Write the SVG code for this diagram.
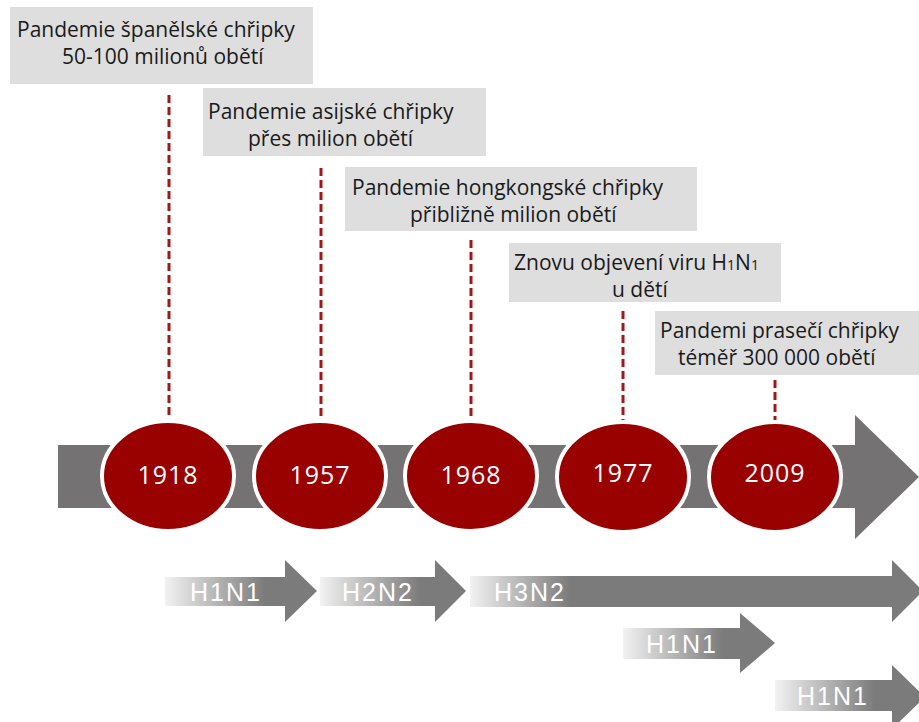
<svg xmlns="http://www.w3.org/2000/svg" width="919" height="722" viewBox="0 0 919 722">
<style>
.box{fill:#dedede}
.bt{font-family:"Open Sans","Liberation Sans",sans-serif;font-size:21px;fill:#1a1a1a}
.dash{stroke:#a01818;stroke-width:3;stroke-dasharray:8 4;fill:none}
.circ{fill:#990000;stroke:#ffffff;stroke-width:4}
.yt{font-family:"Open Sans","Liberation Sans",sans-serif;font-size:25px;fill:#ffffff;text-anchor:middle;letter-spacing:1px}
.at{font-family:"Liberation Sans",Arial,sans-serif;font-size:25px;fill:#ffffff;letter-spacing:2px}
</style>
<defs>
<linearGradient id="g1" gradientUnits="userSpaceOnUse" x1="165" y1="0" x2="265" y2="0"><stop offset="0" stop-color="#f2f2f2"/><stop offset="1" stop-color="#7b7b7b"/></linearGradient>
<linearGradient id="g2" gradientUnits="userSpaceOnUse" x1="320" y1="0" x2="420" y2="0"><stop offset="0" stop-color="#f2f2f2"/><stop offset="1" stop-color="#7b7b7b"/></linearGradient>
<linearGradient id="g3" gradientUnits="userSpaceOnUse" x1="470" y1="0" x2="570" y2="0"><stop offset="0" stop-color="#f2f2f2"/><stop offset="1" stop-color="#7b7b7b"/></linearGradient>
<linearGradient id="g4" gradientUnits="userSpaceOnUse" x1="623" y1="0" x2="723" y2="0"><stop offset="0" stop-color="#f2f2f2"/><stop offset="1" stop-color="#7b7b7b"/></linearGradient>
<linearGradient id="g5" gradientUnits="userSpaceOnUse" x1="775" y1="0" x2="875" y2="0"><stop offset="0" stop-color="#f2f2f2"/><stop offset="1" stop-color="#7b7b7b"/></linearGradient>
</defs>
<rect width="919" height="722" fill="#ffffff"/>

<g id="connectors">
<line class="dash" x1="169" y1="95" x2="169" y2="422"/>
<line class="dash" x1="321" y1="168" x2="321" y2="422"/>
<line class="dash" x1="471" y1="240" x2="471" y2="422"/>
<line class="dash" x1="623" y1="311" x2="623" y2="422"/>
<line class="dash" x1="775" y1="380" x2="775" y2="422"/>
</g>

<g id="box1">
<rect class="box" x="10" y="7" width="303" height="77"/>
<text class="bt" x="17" y="37">Pandemie španělské chřipky</text>
<text class="bt" x="62" y="64">50-100 milionů obětí</text>
</g>
<g id="box2">
<rect class="box" x="203" y="88" width="283" height="68"/>
<text class="bt" x="208" y="119">Pandemie asijské chřipky</text>
<text class="bt" x="248" y="146">přes milion obětí</text>
</g>
<g id="box3">
<rect class="box" x="345" y="167" width="352" height="64"/>
<text class="bt" x="352" y="195">Pandemie hongkongské chřipky</text>
<text class="bt" x="410" y="222">přibližně milion obětí</text>
</g>
<g id="box4">
<rect class="box" x="509" y="243" width="272" height="59"/>
<text class="bt" x="514" y="270">Znovu objevení viru H<tspan font-size="14">1</tspan>N<tspan font-size="14">1</tspan></text>
<text class="bt" x="612" y="297">u dětí</text>
</g>
<g id="box5">
<rect class="box" x="655" y="311" width="264" height="64"/>
<text class="bt" x="660" y="338">Pandemi prasečí chřipky</text>
<text class="bt" x="678" y="365">téměř 300 000 obětí</text>
</g>

<g id="timeline">
<path d="M58 445 H855 V415 L919 477 L855 539 V508 H58 Z" fill="#747272"/>
</g>

<g id="y1918"><ellipse class="circ" cx="168" cy="476" rx="66" ry="55"/><text class="yt" x="168" y="484">1918</text></g>
<g id="y1957"><ellipse class="circ" cx="320" cy="476" rx="66" ry="55"/><text class="yt" x="320" y="484">1957</text></g>
<g id="y1968"><ellipse class="circ" cx="471" cy="476" rx="66" ry="55"/><text class="yt" x="471" y="484">1968</text></g>
<g id="y1977"><ellipse class="circ" cx="623" cy="477" rx="66" ry="55"/><text class="yt" x="623" y="482">1977</text></g>
<g id="y2009"><ellipse class="circ" cx="775" cy="477" rx="66" ry="55"/><text class="yt" x="775" y="482">2009</text></g>

<g id="a1"><path d="M165 577 H285 V560 L317 591 L285 622 V606 H165 Z" fill="url(#g1)"/><text class="at" x="190" y="601">H1N1</text></g>
<g id="a2"><path d="M320 577 H435 V560 L466 591 L435 622 V606 H320 Z" fill="url(#g2)"/><text class="at" x="342" y="601">H2N2</text></g>
<g id="a3"><path d="M470 576 H892 V560 L923 591 L892 622 V607 H470 Z" fill="url(#g3)"/><text class="at" x="494" y="601">H3N2</text></g>
<g id="a4"><path d="M623 628 H740 V613 L775 643 L740 673 V659 H623 Z" fill="url(#g4)"/><text class="at" x="646" y="653">H1N1</text></g>
<g id="a5"><path d="M775 680 H892 V665 L925 697 L892 729 V711 H775 Z" fill="url(#g5)"/><text class="at" x="797" y="705">H1N1</text></g>
</svg>
